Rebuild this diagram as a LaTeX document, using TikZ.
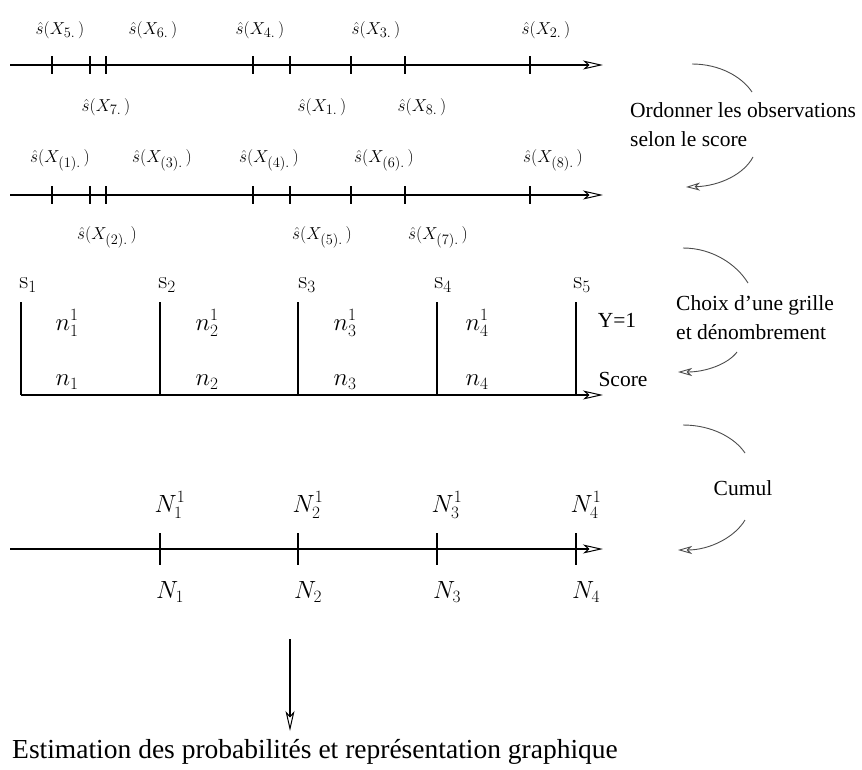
\documentclass[tikz,border=0pt]{standalone}
\usepackage[no-math]{fontspec}
\setmainfont{Liberation Serif}
\usetikzlibrary{arrows.meta}
\newcommand\obslab[1]{$\hat{s}(X_{#1}\,)$}
\begin{document}
\begin{tikzpicture}[x=1pt,y=-1pt,
  axisln/.style={line width=2pt,-{Stealth[open,length=20pt,width=9pt,inset=5pt,line width=1pt]}},
  tickln/.style={line width=1.4pt},
  gridln/.style={line width=2pt},
  obslbl/.style={font=\fontsize{19}{22}\selectfont,inner sep=0pt},
  slbl/.style={font=\fontsize{24}{26}\selectfont,inner sep=0pt},
  nlbl/.style={font=\fontsize{25}{27}\selectfont,inner sep=0pt},
  Nlbl/.style={font=\fontsize{27}{30}\selectfont,inner sep=0pt},
  caption/.style={font=\fontsize{21.5}{29}\selectfont,inner sep=0pt,align=left},
  arcln/.style={line width=0.9pt,black!70},
  arcarr/.style={line width=0.9pt,black!70,-{Stealth[open,length=14pt,width=8pt,inset=4pt]}}]
\useasboundingbox (0,0) rectangle (862,769);

% ---------- line 1 ----------
\coordinate (a1s) at (10,65); \coordinate (a1e) at (603,65);
\draw[axisln] (a1s) -- (a1e);
\foreach \x in {52,90,106,253,290,351,405,530}
  \draw[tickln] (\x,56) -- (\x,74);
\node[obslbl] (o5) at (60,30) {\obslab{5.}};
\node[obslbl] (o6) at (153,30) {\obslab{6.}};
\node[obslbl] (o4) at (260,30) {\obslab{4.}};
\node[obslbl] (o3) at (376,30) {\obslab{3.}};
\node[obslbl] (o2) at (546,30) {\obslab{2.}};
\node[obslbl] (o7) at (106,107) {\obslab{7.}};
\node[obslbl] (o1) at (322,107) {\obslab{1.}};
\node[obslbl] (o8) at (422,107) {\obslab{8.}};

% ---------- line 2 ----------
\coordinate (a2s) at (10,195); \coordinate (a2e) at (603,195);
\draw[axisln] (a2s) -- (a2e);
\foreach \x in {52,90,106,253,290,351,405,530}
  \draw[tickln] (\x,186) -- (\x,204);
\node[obslbl] (r1) at (60,160) {\obslab{(1).}};
\node[obslbl] (r3) at (162,160) {\obslab{(3).}};
\node[obslbl] (r4) at (269,160) {\obslab{(4).}};
\node[obslbl] (r6) at (384,160) {\obslab{(6).}};
\node[obslbl] (r8) at (553,160) {\obslab{(8).}};
\node[obslbl] (r2) at (107,237) {\obslab{(2).}};
\node[obslbl] (r5) at (322,237) {\obslab{(5).}};
\node[obslbl] (r7) at (438,237) {\obslab{(7).}};

% ---------- grid ----------
\foreach \x/\i in {21/1,160/2,298/3,437/4,576/5} {
  \coordinate (gt\i) at (\x,302);
  \coordinate (gb\i) at (\x,395);
  \draw[gridln] (gt\i) -- (gb\i);
}
\coordinate (ge) at (603,395);
\draw[axisln] (gb1) -- (ge);
\node[slbl] (s1) at (28,285) {$\mathrm{s}_1$};
\node[slbl] (s2) at (167,285) {$\mathrm{s}_2$};
\node[slbl] (s3) at (307,285) {$\mathrm{s}_3$};
\node[slbl] (s4) at (443,285) {$\mathrm{s}_4$};
\node[slbl] (s5) at (582,285) {$\mathrm{s}_5$};
\foreach \x/\i in {67/1,207/2,345/3,477/4} {
  \node[nlbl] (nu\i) at (\x,323) {$n_{\i}^{1}$};
  \node[nlbl] (nl\i) at (\x,382) {$n_{\i}$};
}
\node[caption] (y1) at (617,320) {Y=1};
\node[caption] (sc) at (623,379) {Score};

% ---------- cumulative line ----------
\coordinate (a3s) at (10,549); \coordinate (a3e) at (603,549);
\draw[axisln] (a3s) -- (a3e);
\foreach \x/\i in {160/1,298/2,437/3,576/4} {
  \draw[tickln] (\x,533) -- (\x,565);
  \node[Nlbl] (Nu\i) at (\x+10,505) {$N_{\i}^{1}$};
  \node[Nlbl] (Nl\i) at (\x+10,592) {$N_{\i}$};
}

% ---------- final arrow and caption ----------
\coordinate (vs) at (290,639); \coordinate (ve) at (290,731);
\draw[line width=1.4pt,-{Stealth[open,length=20pt,width=9pt,inset=5pt,line width=1pt]}] (vs) -- (ve);
\node[caption,font=\fontsize{27.5}{30}\selectfont] (est) at (315,752) {Estimation des probabilités et représentation graphique};

% ---------- side captions with curved arrows ----------
\node[caption,anchor=west] (ord) at (630,125) {Ordonner les observations\\selon le score};
\coordinate (o_a) at (692,64); \coordinate (o_b) at (752,92);
\coordinate (o_c) at (753,157); \coordinate (o_d) at (686,187);
\draw[arcln] (o_a) .. controls (720,64) and (742,77) .. (o_b);
\draw[arcarr] (o_c) .. controls (744,174) and (720,186) .. (o_d);

\node[caption,anchor=west] (cho) at (676,318) {Choix d'une grille\\et dénombrement};
\coordinate (c_a) at (683,248); \coordinate (c_b) at (748,283);
\coordinate (c_c) at (737,352); \coordinate (c_d) at (678,372);
\draw[arcln] (c_a) .. controls (713,248) and (737,265) .. (c_b);
\draw[arcarr] (c_c) .. controls (728,364) and (706,372) .. (c_d);

\node[caption] (cum) at (743,488) {Cumul};
\coordinate (u_a) at (683,425); \coordinate (u_b) at (745,453);
\coordinate (u_c) at (745,520); \coordinate (u_d) at (678,550);
\draw[arcln] (u_a) .. controls (712,425) and (735,438) .. (u_b);
\draw[arcarr] (u_c) .. controls (735,537) and (710,550) .. (u_d);
\end{tikzpicture}
\end{document}
